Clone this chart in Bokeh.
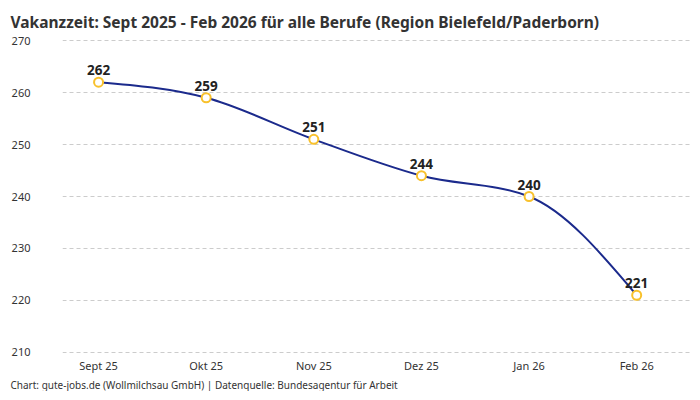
from bokeh.plotting import figure
from bokeh.models import Range1d, FixedTicker, ColumnDataSource, Title
from bokeh.core.properties import value
from bokeh.embed import file_html
from bokeh.resources import INLINE

# data
months = ["Sept 25", "Okt 25", "Nov 25", "Dez 25", "Jan 26", "Feb 26"]
vacancy_days = [262, 259, 251, 244, 240, 221]
y_ticks = [210, 220, 230, 240, 250, 260, 270]

FONT = "Noto Sans"
LINE_COLOR = "#1b2a8c"
MARKER_COLOR = "#f8c12c"


def monotone_slopes(xs, ys):
    """Tangents of a monotone cubic (like d3 curveMonotoneX)."""
    n = len(xs)
    secants = [(ys[i + 1] - ys[i]) / (xs[i + 1] - xs[i]) for i in range(n - 1)]
    t = [0.0] * n
    for i in range(1, n - 1):
        h0 = xs[i] - xs[i - 1]
        h1 = xs[i + 1] - xs[i]
        s0, s1 = secants[i - 1], secants[i]
        p = (s0 * h1 + s1 * h0) / (h0 + h1)
        sign = (1 if s0 > 0 else -1 if s0 < 0 else 0) + (1 if s1 > 0 else -1 if s1 < 0 else 0)
        t[i] = sign * min(abs(s0), abs(s1), 0.5 * abs(p))
    t[0] = (3 * secants[0] - t[1]) / 2
    t[-1] = (3 * secants[-1] - t[-2]) / 2
    return t


xs = list(range(len(months)))
slopes = monotone_slopes(xs, vacancy_days)

# bezier segments between neighbouring points
seg = dict(x0=[], y0=[], x1=[], y1=[], cx0=[], cy0=[], cx1=[], cy1=[])
for i in range(len(xs) - 1):
    h = xs[i + 1] - xs[i]
    seg["x0"].append(xs[i])
    seg["y0"].append(vacancy_days[i])
    seg["x1"].append(xs[i + 1])
    seg["y1"].append(vacancy_days[i + 1])
    seg["cx0"].append(xs[i] + h / 3)
    seg["cy0"].append(vacancy_days[i] + slopes[i] * h / 3)
    seg["cx1"].append(xs[i + 1] - h / 3)
    seg["cy1"].append(vacancy_days[i + 1] - slopes[i + 1] * h / 3)

p = figure(frame_width=628, frame_height=316, output_backend="svg", toolbar_location=None,
           x_range=Range1d(-0.335, 5.5), y_range=Range1d(209.6, 270.4),
           min_border_left=62, min_border_right=2, min_border_top=38, min_border_bottom=0)

p.title.text = "Vakanzzeit: Sept 2025 - Feb 2026 für alle Berufe (Region Bielefeld/Paderborn)"
p.title.text_font = FONT
p.title.text_font_size = "15.5px"
p.title.text_font_style = "bold"
p.title.text_color = "#333333"
p.title.align = "left"
p.title.vertical_align = "top"
p.title.offset = -52
p.title.standoff = 8

p.outline_line_color = None
p.background_fill_color = "white"
p.border_fill_color = "white"

# axes
p.xaxis.ticker = FixedTicker(ticks=xs)
p.xaxis.major_label_overrides = {i: m for i, m in enumerate(months)}
p.yaxis.ticker = FixedTicker(ticks=y_ticks)
for ax in (p.xaxis, p.yaxis):
    ax.axis_line_color = None
    ax.major_tick_line_color = None
    ax.minor_tick_line_color = None
    ax.major_tick_out = 0
    ax.major_tick_in = 0
    ax.major_label_text_font = FONT
    ax.major_label_text_font_size = "11px"
    ax.major_label_text_color = "#333333"
p.yaxis.major_label_standoff = 32
p.xaxis.major_label_standoff = 3

p.xgrid.grid_line_color = None
p.ygrid.grid_line_color = "#cccccc"
p.ygrid.grid_line_dash = "4 3"
p.ygrid.grid_line_width = 1

p.bezier(x0="x0", y0="y0", x1="x1", y1="y1", cx0="cx0", cy0="cy0", cx1="cx1", cy1="cy1",
         source=ColumnDataSource(seg), line_color=LINE_COLOR, line_width=2)

src = ColumnDataSource(dict(x=xs, y=vacancy_days, label=[str(v) for v in vacancy_days]))
p.scatter("x", "y", source=src, size=9, fill_color="white",
          line_color=MARKER_COLOR, line_width=2)
p.text("x", "y", text="label", source=src, text_align="center", text_baseline="bottom",
       y_offset=-7, text_font=value(FONT), text_font_size="13.5px",
       text_font_style="bold", text_color="#222222")

footer = Title(text="Chart: gute-jobs.de (Wollmilchsau GmbH) | Datenquelle: Bundesagentur für Arbeit",
               text_font=FONT, text_font_size="10px", text_font_style="normal",
               text_color="#333333", align="left", offset=-52, standoff=0)
p.add_layout(footer, "below")

open("out.html", "w").write(file_html(p, INLINE))
